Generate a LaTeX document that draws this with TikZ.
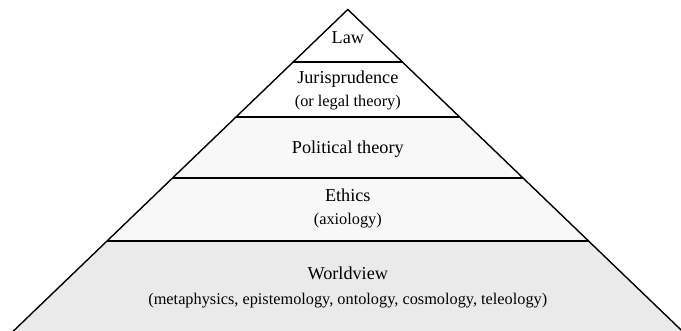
\documentclass[tikz,border=0pt]{standalone}
\usepackage{fontspec}
\setmainfont{Liberation Serif}
\usepackage{xcolor}
\definecolor{paleband}{HTML}{F8F8F8}
\definecolor{baseband}{HTML}{EAEAEA}
\tikzset{
    rule/.style={line width=1.9pt},
    edge/.style={line width=1.4pt, line join=miter},
    title/.style={font=\fontsize{18.2}{21}\selectfont, anchor=base, inner sep=0pt},
    subtitle/.style={font=\fontsize{16.3}{19}\selectfont, anchor=base, inner sep=0pt}
}
\begin{document}
\begin{tikzpicture}[x=1pt,y=1pt]
    \def\cx{347.8}
    \def\top{321.5}
    \def\slope{1.04}
    \useasboundingbox (0,0) rectangle (681,331);
    \clip (0,0) rectangle (681,331);
    \foreach \lo/\hi/\shade in {-20/90.3/baseband, 90.3/152.7/paleband, 152.7/214.3/paleband, 214.3/268.7/white, 268.7/321.5/white} {
        \fill[\shade] ({\cx-\slope*(\top-\lo)},\lo) -- ({\cx+\slope*(\top-\lo)},\lo)
            -- ({\cx+\slope*(\top-\hi)},\hi) -- ({\cx-\slope*(\top-\hi)},\hi) -- cycle;
    }
    \foreach \h in {90.3,152.7,214.3,268.7} {
        \draw[rule] ({\cx-\slope*(\top-\h)},\h) -- ({\cx+\slope*(\top-\h)},\h);
    }
    \coordinate (apex) at (\cx,\top);
    \coordinate (baseL) at ({\cx-\slope*(\top+20)},-20);
    \coordinate (baseR) at ({\cx+\slope*(\top+20)},-20);
    \draw[edge] (baseL) -- (apex) -- (baseR);
    \node[title] (law) at (\cx,287.7) {Law};
    \node[title] (juris) at (\cx,247.7) {Jurisprudence};
    \node[subtitle] (jurissub) at (\cx,224) {(or legal theory)};
    \node[title] (politics) at (\cx,177.7) {Political theory};
    \node[title] (ethics) at (\cx,129.3) {Ethics};
    \node[subtitle] (ethicssub) at (\cx,106.3) {(axiology)};
    \node[title] (world) at (\cx,51) {Worldview};
    \node[subtitle] (worldsub) at (\cx,26) {(metaphysics, epistemology, ontology, cosmology, teleology)};
\end{tikzpicture}
\end{document}
